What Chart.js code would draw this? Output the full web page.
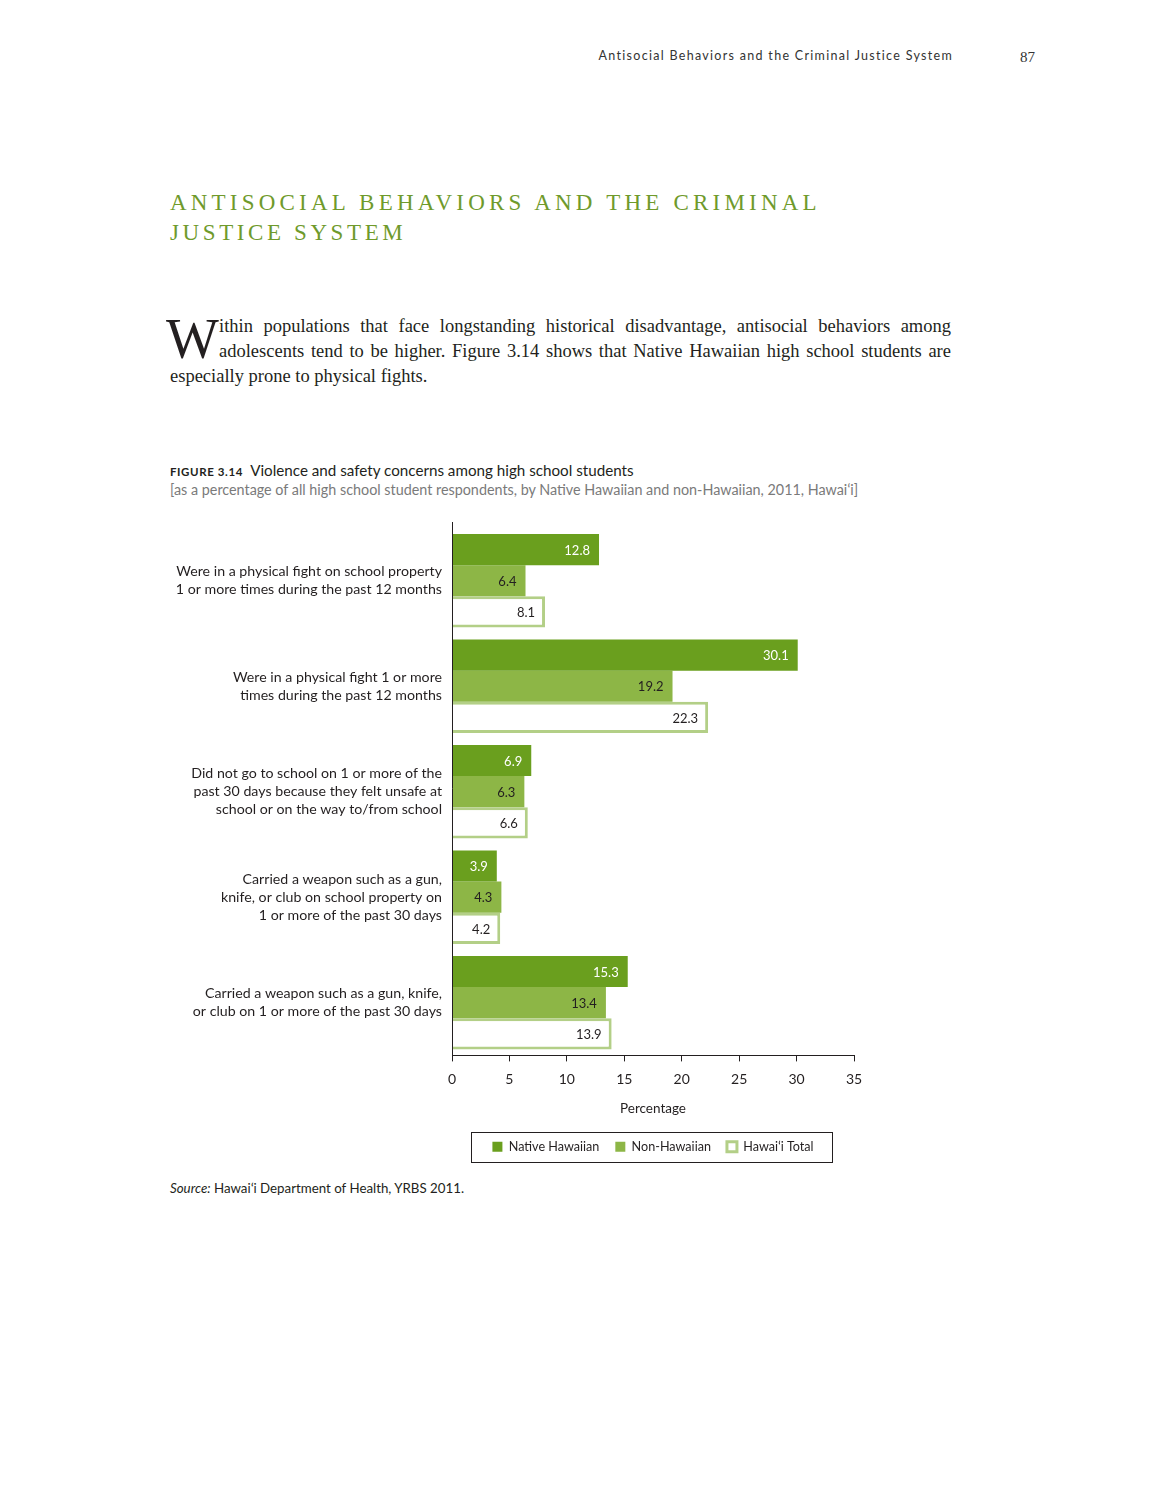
<!DOCTYPE html>
<html><head><meta charset="utf-8">
<script src="https://cdn.jsdelivr.net/npm/chart.js@4.4.1/dist/chart.umd.min.js"></script>
<style>
html,body{margin:0;padding:0;background:#fff;}
body{width:1156px;height:1496px;position:relative;overflow:hidden;color:#231f20;}
.abs{position:absolute;white-space:nowrap;}
.para{position:absolute;left:170px;width:781px;font:18.5px 'Liberation Serif';line-height:25px;}
.jl{text-align:justify;text-align-last:justify;white-space:nowrap;}
</style></head>
<body>
<div class="abs" style="right:203px;top:48px;font:12.5px Lato;letter-spacing:1.3px;color:#333;">Antisocial Behaviors and the Criminal Justice System</div>
<div class="abs" style="left:1020px;top:50px;font:15px 'Liberation Serif';line-height:15px;color:#333;">87</div>
<div class="abs" style="left:170px;top:188px;font:23px 'Liberation Serif';letter-spacing:4.2px;line-height:30px;color:#6f9a2b;">ANTISOCIAL BEHAVIORS AND THE CRIMINAL<br><span style="letter-spacing:3.6px;">JUSTICE SYSTEM</span></div>
<div class="abs" style="left:166px;top:311px;font:56px 'Liberation Serif';line-height:56px;">W</div>
<div class="para" style="top:314px;">
<div class="jl" style="margin-left:49px;">ithin populations that face longstanding historical disadvantage, antisocial behaviors among</div>
<div class="jl" style="margin-left:49px;">adolescents tend to be higher. Figure 3.14 shows that Native Hawaiian high school students are</div>
<div>especially prone to physical fights.</div>
</div>
<div class="abs" style="left:170px;top:461px;font:15.2px Lato;line-height:18px;"><span style="font-weight:bold;font-size:11.5px;letter-spacing:0.6px;">FIGURE 3.14</span>&nbsp; Violence and safety concerns among high school students</div>
<div class="abs" style="left:170px;top:481px;font:14.35px Lato;line-height:18px;color:#7a7a7a;">[as a percentage of all high school student respondents, by Native Hawaiian and non-Hawaiian, 2011, Hawaiʻi]</div>
<canvas id="c" width="700" height="660" style="position:absolute;left:170px;top:515px;"></canvas>
<div class="abs" style="left:170px;top:1179px;font:13.3px Lato;line-height:18px;"><i>Source:</i> Hawaiʻi Department of Health, YRBS 2011.</div>
<script>
const categories = [
  ["Were in a physical fight on school property", "1 or more times during the past 12 months"],
  ["Were in a physical fight 1 or more", "times during the past 12 months"],
  ["Did not go to school on 1 or more of the", "past 30 days because they felt unsafe at", "school or on the way to/from school"],
  ["Carried a weapon such as a gun,", "knife, or club on school property on", "1 or more of the past 30 days"],
  ["Carried a weapon such as a gun, knife,", "or club on 1 or more of the past 30 days"]
];
const seriesNames = ["Native Hawaiian", "Non-Hawaiian", "Hawaiʻi Total"];
const nativeHawaiian = [12.8, 30.1, 6.9, 3.9, 15.3];
const nonHawaiian = [6.4, 19.2, 6.3, 4.3, 13.4];
const hawaiiTotal = [8.1, 22.3, 6.6, 4.2, 13.9];
const xTickMin = 0, xTickMax = 35, xTickStep = 5;
const axisTitle = "Percentage";

const TXT = '#231f20';
const FONT = 'Lato';

const valueLabels = {
  id: 'valueLabels',
  afterDatasetsDraw(chart) {
    const ctx = chart.ctx;
    ctx.save();
    ctx.font = '13px ' + FONT;
    ctx.textAlign = 'right';
    ctx.textBaseline = 'middle';
    chart.data.datasets.forEach((ds, i) => {
      const meta = chart.getDatasetMeta(i);
      meta.data.forEach((bar, j) => {
        ctx.fillStyle = i === 0 ? '#ffffff' : TXT;
        const off = i === 2 ? 10 : 9;
        ctx.fillText(ds.data[j].toFixed(1), bar.x - off, bar.y + 1);
      });
    });
    const a = chart.chartArea;
    ctx.strokeStyle = TXT;
    ctx.lineWidth = 1;
    ctx.beginPath();
    ctx.moveTo(Math.round(a.left) + 0.5, a.top - 6);
    ctx.lineTo(Math.round(a.left) + 0.5, a.bottom);
    ctx.stroke();
    ctx.restore();
  },
  afterDraw(chart) {
    const hb = chart.legend && chart.legend.legendHitBoxes;
    if (!hb || !hb.length) return;
    let l = Infinity, r = -Infinity;
    hb.forEach(h => { l = Math.min(l, h.left); r = Math.max(r, h.left + h.width); });
    const cy = hb[0].top + hb[0].height / 2;
    const ctx = chart.ctx;
    ctx.save();
    ctx.strokeStyle = TXT;
    ctx.lineWidth = 1;
    ctx.strokeRect(Math.round(l - 21) + 0.5, Math.round(cy - 15) + 0.5, Math.round(r - l + 40), 30);
    ctx.restore();
  }
};

new Chart(document.getElementById('c'), {
  type: 'bar',
  data: {
    labels: categories,
    datasets: [
      { label: seriesNames[0], data: nativeHawaiian, backgroundColor: '#6a9f1e', borderWidth: 0 },
      { label: seriesNames[1], data: nonHawaiian, backgroundColor: '#8db646', borderWidth: 0 },
      { label: seriesNames[2], data: hawaiiTotal, backgroundColor: '#ffffff', borderColor: '#b3cf87', borderWidth: 3, borderSkipped: 'start' }
    ]
  },
  options: {
    indexAxis: 'y',
    responsive: false,
    animation: false,
    devicePixelRatio: 1,
    datasets: { bar: { barPercentage: 1.0, categoryPercentage: 0.886 } },
    layout: { padding: { top: 13, right: 16, left: 0, bottom: 12 } },
    scales: {
      y: {
        grid: { display: false, drawTicks: false },
        border: { display: false },
        ticks: { padding: 10, color: TXT, font: { family: FONT, size: 14.2, lineHeight: 1.27 } },
        afterFit(s) { s.width = 282; s.paddingTop = 0; s.paddingBottom = 0; }
      },
      x: {
        min: xTickMin, max: xTickMax,
        grid: { display: true, drawOnChartArea: false, drawTicks: true, tickLength: 6, color: TXT, lineWidth: 1 },
        border: { display: true, color: TXT, width: 1 },
        ticks: { stepSize: xTickStep, padding: 10, color: TXT, font: { family: FONT, size: 14 } },
        title: { display: true, text: axisTitle, color: TXT, font: { family: FONT, size: 13.5 }, padding: { top: 8, bottom: 8 } },
        afterFit(s) { s.height = 69; s.paddingLeft = 0; s.paddingRight = 0; }
      }
    },
    plugins: {
      legend: {
        position: 'bottom',
        fullSize: false,
        labels: { boxWidth: 10, boxHeight: 10, padding: 16, color: TXT, font: { family: FONT, size: 12.6 } }
      },
      tooltip: { enabled: false }
    }
  },
  plugins: [valueLabels]
});
</script>
</body></html>
